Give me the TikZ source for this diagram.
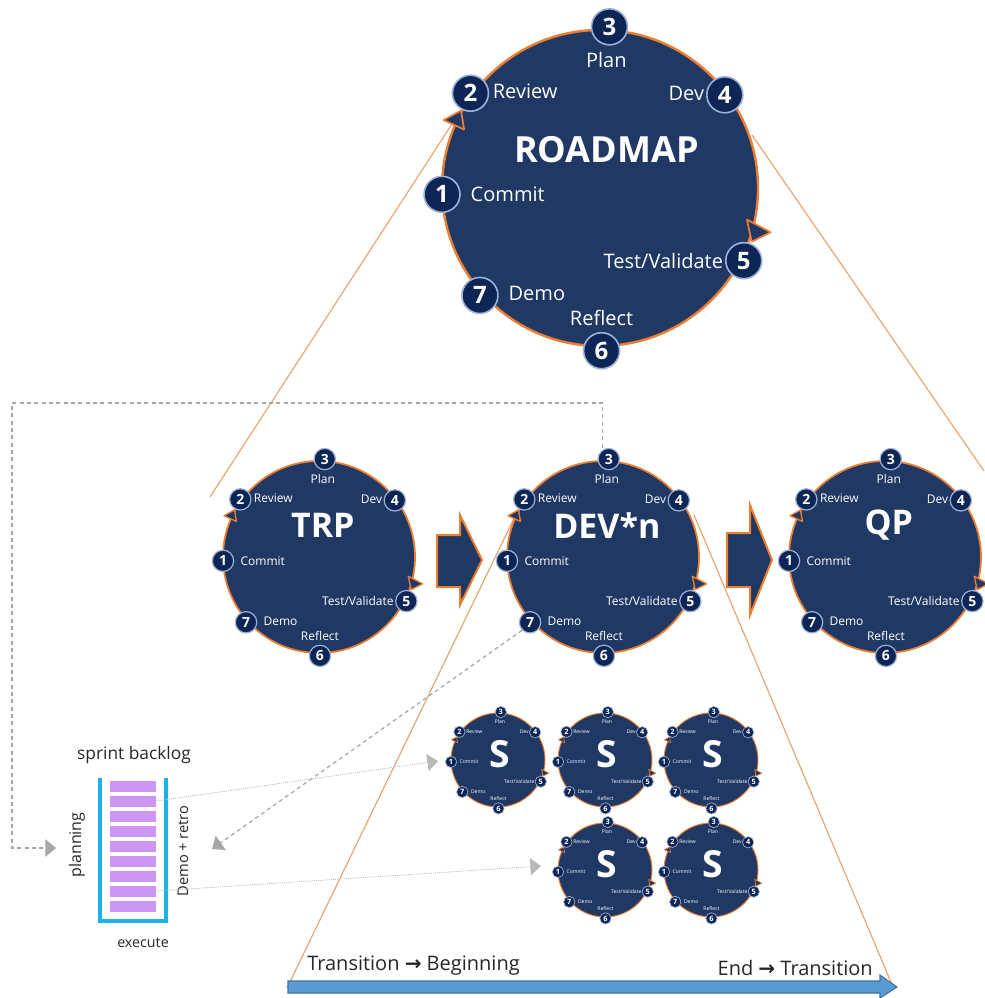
\documentclass[tikz,border=0pt]{standalone}
\usepackage{fontspec}
\setmainfont{Open Sans}
\newfontfamily\symf{DejaVu Sans}
\usetikzlibrary{arrows.meta}
\definecolor{navy}{HTML}{1F3864}
\definecolor{badgeC}{HTML}{0D2656}
\definecolor{badgeE}{HTML}{9FB2D6}
\definecolor{orangeC}{HTML}{ED7D31}
\definecolor{funnelC}{HTML}{E8A672}
\definecolor{grayC}{HTML}{A6A6A6}
\definecolor{cyanC}{HTML}{1CB2E6}
\definecolor{purpleC}{HTML}{CC96F2}
\definecolor{blueF}{HTML}{5B9BD5}
\definecolor{blueD}{HTML}{41719C}
\definecolor{txtC}{HTML}{262626}
\tikzset{
  bigset/.style={
    ring/.style={circle, fill=navy, draw=orangeC, line width=1.8pt, inner sep=0pt},
    ttl/.style={text=white, inner sep=0pt, font=\bfseries\fontsize{27}{27}\selectfont},
    lab/.style={text=white, inner sep=0pt, font=\fontsize{15}{15}\selectfont},
    badge/.style={circle, fill=badgeC, draw=badgeE, line width=1.2pt, minimum size=27pt, inner sep=0pt, text=white, font=\bfseries\fontsize{18}{18}\selectfont},
    tri/.style={fill=navy, draw=orangeC, line width=1.3pt, line join=round}},
  midset/.style={
    ring/.style={circle, fill=navy, draw=orangeC, line width=1.3pt, inner sep=0pt},
    ttl/.style={text=white, inner sep=0pt, font=\bfseries\fontsize{25.5}{25.5}\selectfont},
    lab/.style={text=white, inner sep=0pt, font=\fontsize{9}{9}\selectfont},
    badge/.style={circle, fill=badgeC, draw=badgeE, line width=0.9pt, minimum size=16pt, inner sep=0pt, text=white, font=\bfseries\fontsize{10.5}{10.5}\selectfont},
    tri/.style={fill=navy, draw=orangeC, line width=1pt, line join=round}},
  smallset/.style={
    ring/.style={circle, fill=navy, draw=orangeC, line width=0.7pt, inner sep=0pt},
    ttl/.style={text=white, inner sep=0pt, font=\bfseries\fontsize{28}{28}\selectfont},
    lab/.style={text=white, inner sep=0pt, font=\fontsize{3.8}{3.8}\selectfont},
    badge/.style={circle, fill=badgeC, draw=badgeE, line width=0.5pt, minimum size=8.5pt, inner sep=0pt, text=white, font=\bfseries\fontsize{5.5}{5.5}\selectfont},
    tri/.style={fill=navy, draw=orangeC, line width=0.5pt, line join=round}},
  funnel/.style={draw=funnelC, line width=0.9pt},
  blockarrow/.style={fill=navy, draw=orangeC, line width=1.5pt, line join=miter},
  fbdash/.style={draw=grayC, line width=0.9pt, dash pattern=on 3pt off 2.5pt, -{Triangle[length=8pt,width=13pt]}},
  dotgray/.style={draw=grayC!80, line width=0.6pt, dash pattern=on 0.8pt off 0.8pt, -{Triangle[length=8pt,width=13pt]}},
  bar/.style={fill=purpleC, minimum width=34.5pt, minimum height=8.25pt, inner sep=0pt},
  bltext/.style={text=txtC, inner sep=0pt},
  bt/.style={text=txtC, inner sep=0pt, font=\fontsize{15}{15}\selectfont}
}
% #1 name, #2 cx, #3 cy, #4 R, #5 title, #6 size set, #7 title y
\newcommand\cyc[7]{%
\begin{scope}[shift={(#2,#3)}, x=#4*0.75pt, y=-#4*0.75pt, #6]
  \node[ring, minimum size=#4*1.5pt] (#1) at (0,0) {};
  \draw[tri] (-0.99,-0.43) -- (-0.88,-0.49) -- (-0.86,-0.37) -- cycle;
  \draw[tri] (0.93,0.20) -- (1.08,0.28) -- (0.96,0.34) -- cycle;
  \node[ttl] (#1-t) at (0.04,#7) {#5};
  \node[lab] (#1-l3) at (0.04,-0.81) {Plan};
  \node[lab, anchor=west] (#1-l2) at (-0.68,-0.61) {Review};
  \node[lab, anchor=east] (#1-l4) at (0.66,-0.60) {Dev};
  \node[lab, anchor=west] (#1-l1) at (-0.82,0.04) {Commit};
  \node[lab, anchor=east] (#1-l5) at (0.78,0.46) {Test/Validate};
  \node[lab, anchor=west] (#1-l7) at (-0.58,0.67) {Demo};
  \node[lab] (#1-l6) at (0.01,0.82) {Reflect};
  \node[badge] (#1-b1) at (-1.0,0.04) {1};
  \node[badge] (#1-b2) at (-0.82,-0.60) {2};
  \node[badge] (#1-b3) at (0.06,-1.02) {3};
  \node[badge] (#1-b4) at (0.79,-0.59) {4};
  \node[badge] (#1-b5) at (0.91,0.46) {5};
  \node[badge] (#1-b6) at (0.01,1.03) {6};
  \node[badge] (#1-b7) at (-0.76,0.68) {7};
\end{scope}}
\begin{document}
\begin{tikzpicture}[x=0.75pt, y=-0.75pt]
\useasboundingbox (0,0) rectangle (984,998);
% funnel lines
\coordinate (fl1) at (452,124); \coordinate (fl2) at (210,497);
\coordinate (fr1) at (752,135); \coordinate (fr2) at (984,471);
\coordinate (dl1) at (518,510); \coordinate (dl2) at (287,988);
\coordinate (dr1) at (694,515); \coordinate (dr2) at (893,987);
\draw[funnel] (fl1) -- (fl2);
\draw[funnel] (fr1) -- (fr2);
\draw[funnel] (dl1) -- (dl2);
\draw[funnel] (dr1) -- (dr2);
% cycles
\cyc{rm}{600}{188}{158}{ROADMAP}{bigset}{-0.24}
\cyc{trp}{319}{557}{96}{TRP}{midset}{-0.33}
\cyc{dev}{603}{557}{96}{DEV*n}{midset}{-0.33}
\cyc{qp}{885}{557}{96}{QP}{midset}{-0.33}
\cyc{sa}{498}{760}{47}{S}{smallset}{-0.13}
\cyc{sb}{605}{760}{47}{S}{smallset}{-0.13}
\cyc{sc}{711}{760}{47}{S}{smallset}{-0.13}
\cyc{sd}{605}{870}{47}{S}{smallset}{-0.13}
\cyc{se}{711}{870}{47}{S}{smallset}{-0.13}
% block arrows
\filldraw[blockarrow] (437,535) -- (460,535) -- (460,515) -- (482,560) -- (460,605) -- (460,587) -- (437,587) -- cycle;
\filldraw[blockarrow] (727,533) -- (750,533) -- (750,505) -- (772,560) -- (750,615) -- (750,587) -- (727,587) -- cycle;
% sprint backlog
\draw[cyanC, line width=3pt] (100,778) -- (100,921) -- (166,921) -- (166,778);
\foreach \i in {1,...,9} {
  \node[bar] (bar\i) at (133,{786+15*(\i-1)}) {};
}
\node[bltext, font=\fontsize{13}{13}\selectfont] (sbl) at (134,755) {sprint backlog};
\node[bltext, font=\fontsize{12}{12}\selectfont, rotate=90] (plan) at (77,845) {planning};
\node[bltext, font=\fontsize{11}{11}\selectfont, rotate=90] (demo) at (183,851) {Demo + retro};
\node[bltext, font=\fontsize{10.7}{10.7}\selectfont] (exec) at (143,943) {execute};
% gray connectors
\coordinate (fbc) at (12,403);
\coordinate (planin) at (56,848);
\coordinate (demoin) at (212,849);
\coordinate (sain) at (438,761);
\coordinate (sdin) at (541,866);
\draw[fbdash] ([xshift=-5pt]dev-b3.north) |- (fbc) |- (planin);
\draw[fbdash] (dev-b7.south west) -- (demoin);
\draw[dotgray] (bar2.east) -- (sain);
\draw[dotgray] (bar8.east) -- (sdin);
% bottom arrow
\filldraw[fill=blueF, draw=blueD, line width=0.8pt, line join=miter] (288,981) -- (880,981) -- (880,975) -- (897,987) -- (880,998) -- (880,993) -- (288,993) -- cycle;
\node[bt, anchor=west] (tbeg) at (307,966) {Transition {\symf\bfseries →} Beginning};
\node[bt, anchor=east] (tend) at (873,968) {End {\symf\bfseries →} Transition};
\end{tikzpicture}
\end{document}
